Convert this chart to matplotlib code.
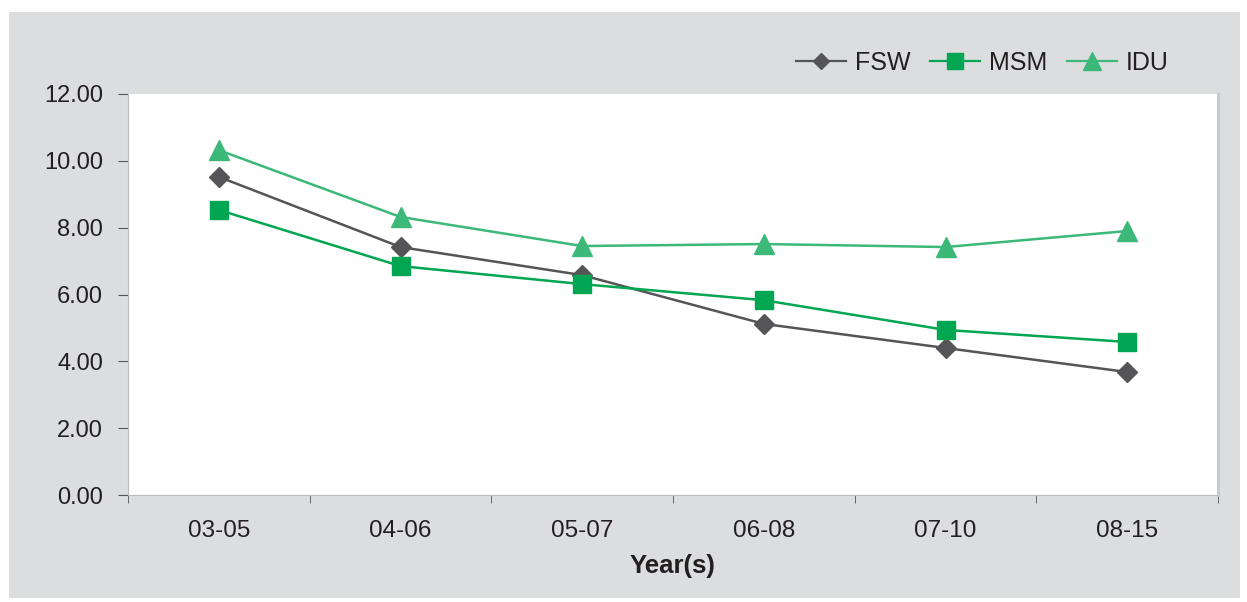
import matplotlib
matplotlib.use("Agg")
import matplotlib.pyplot as plt
from matplotlib.patches import Rectangle
import numpy as np

categories = ["03-05", "04-06", "05-07", "06-08", "07-10", "08-15"]
fsw = [9.52, 7.42, 6.58, 5.12, 4.40, 3.68]
msm = [8.53, 6.85, 6.31, 5.83, 4.94, 4.58]
idu = [10.32, 8.32, 7.45, 7.51, 7.42, 7.90]
yticks = [0, 2, 4, 6, 8, 10, 12]

plt.rcParams['font.family'] = ['Liberation Sans', 'DejaVu Sans']

W, H = 1247, 602
fig = plt.figure(figsize=(W/100, H/100), dpi=100)
fig.patch.set_facecolor('white')
bg = Rectangle((9/W, 1 - 598/H), (1240-9)/W, (598-12)/H,
               transform=fig.transFigure, facecolor='#dcdddf',
               edgecolor='none', zorder=-10)
fig.add_artist(bg)

ax = fig.add_axes([128/W, 1 - 495/H, (1218-128)/W, (495-94)/H])
ax.set_zorder(1)
ax.set_facecolor('white')

x = np.arange(len(categories))
ax.plot(x, fsw, color='#555558', lw=1.8, marker='D', ms=10, mfc='#555558', mec='#555558', label='FSW', zorder=3)
ax.plot(x, msm, color='#00a651', lw=1.8, marker='s', ms=13, mfc='#00a651', mec='#00a651', label='MSM', zorder=3)
ax.plot(x, idu, color='#3cb878', lw=1.8, marker='^', ms=15, mfc='#3cb878', mec='#3cb878', label='IDU', zorder=3)

ax.set_xlim(-0.5, len(categories) - 0.5)
ax.set_ylim(0, 12)
ax.set_yticks(yticks)
ax.set_yticklabels([f"{v:.2f}" for v in yticks], fontsize=17, color='#231f20')
ax.set_xticks(x)
ax.set_xticklabels(categories, fontsize=17.5, color='#231f20')
ax.set_xticks(np.arange(-0.5, len(categories)), minor=True)
ax.tick_params(axis='x', which='major', length=0, pad=18)
ax.tick_params(axis='x', which='minor', length=6, color='#555555', direction='out')
ax.tick_params(axis='y', length=7, color='#555555', direction='out', pad=11)

ax.spines['top'].set_visible(False)
ax.spines['left'].set_color('#bbbbbb')
ax.spines['bottom'].set_color('#bbbbbb')
ax.spines['right'].set_color('#c8c8c8')
ax.spines['right'].set_linewidth(2)

ax.set_xlabel('Year(s)', fontsize=18.5, fontweight='bold', color='#231f20', labelpad=9)

leg = fig.legend(loc='center right', bbox_to_anchor=(1169/W, 1 - 63/H), ncol=3,
                 frameon=False, fontsize=18, handlelength=2.0, columnspacing=0.8,
                 handletextpad=0.35, markerscale=0.85, borderaxespad=0, borderpad=0)
for t in leg.get_texts():
    t.set_color('#231f20')
for l in leg.get_lines():
    l.set_linewidth(1.6)

fig.savefig('out.png', dpi=100)
